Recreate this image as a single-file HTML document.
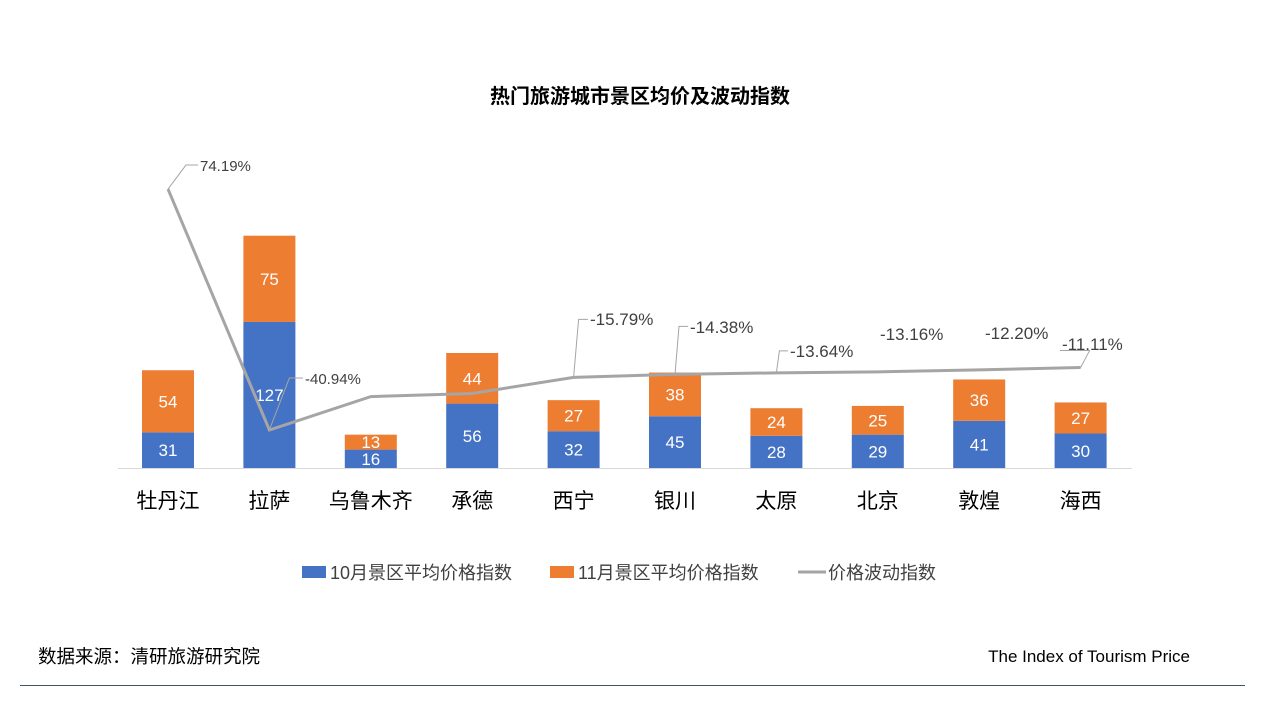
<!DOCTYPE html>
<html><head><meta charset="utf-8">
<style>
body{margin:0;width:1280px;height:720px;background:#fff;overflow:hidden;font-family:"Liberation Sans","Noto Sans CJK SC",sans-serif;}
</style></head>
<body>
<svg id="chart" width="1280" height="720" xmlns="http://www.w3.org/2000/svg" font-family="Liberation Sans, Noto Sans CJK SC, sans-serif">
<text x="640" y="103" text-anchor="middle" font-size="20" font-weight="bold" fill="#000">热门旅游城市景区均价及波动指数</text>
<line x1="118" y1="468.5" x2="1132" y2="468.5" stroke="#d9d9d9" stroke-width="1"/>
<g id="bars"></g>
<g id="line"></g>
<g font-size="18" fill="#404040">
<rect x="302" y="566" width="24" height="12" fill="#4472C4"/><text x="330" y="579">10月景区平均价格指数</text>
<rect x="550" y="566" width="24" height="12" fill="#ED7D31"/><text x="578" y="579">11月景区平均价格指数</text>
<line x1="798" y1="572" x2="826" y2="572" stroke="#A5A5A5" stroke-width="3"/><text x="828" y="579">价格波动指数</text>
</g>
<text x="38" y="663" font-size="18.5" fill="#000">数据来源：清研旅游研究院</text>
<text x="1190" y="662" text-anchor="end" font-size="17" fill="#000">The Index of Tourism Price</text>
<line x1="20" y1="685.5" x2="1245" y2="685.5" stroke="#44546A" stroke-width="1"/>
</svg>
<script>
const categories=["牡丹江","拉萨","乌鲁木齐","承德","西宁","银川","太原","北京","敦煌","海西"];
const oct=[31,127,16,56,32,45,28,29,41,30];
const nov=[54,75,13,44,27,38,24,25,36,27];
const change=[74.19,-40.94,-25.0,-23.5,-15.79,-14.38,-13.64,-13.16,-12.20,-11.11];
const changeLabels=["74.19%","-40.94%","","","-15.79%","-14.38%","-13.64%","-13.16%","-12.20%","-11.11%"];
const NS="http://www.w3.org/2000/svg";
const base=468, k=1.15, x0=168, step=101.4, bw=52;
const xp=i=>x0+i*step;
const yb=v=>base-v*k;
const yl=p=>344.3-p*2.093;
function mk(t,a,p){const e=document.createElementNS(NS,t);for(const n in a)e.setAttribute(n,a[n]);p.appendChild(e);return e;}
const bars=document.getElementById('bars'), line=document.getElementById('line');
categories.forEach((c,i)=>{
 const x=xp(i);
 const r1=mk('rect',{x:x-bw/2,y:yb(oct[i]),width:bw,height:oct[i]*k,fill:'#4472C4'},bars);
 
 
 const r2=mk('rect',{x:x-bw/2,y:yb(oct[i]+nov[i]),width:bw,height:nov[i]*k,fill:'#ED7D31'},bars);
 
 
 const t1=mk('text',{x:x,y:(yb(oct[i])+base)/2+6,'text-anchor':'middle','font-size':17,fill:'#fff'},bars);t1.textContent=oct[i];
 
 
 const t2=mk('text',{x:x,y:(yb(oct[i])+yb(oct[i]+nov[i]))/2+6,'text-anchor':'middle','font-size':17,fill:'#fff'},bars);t2.textContent=nov[i];
 
 
 const cl=mk('text',{x:x,y:508,'text-anchor':'middle','font-size':21,fill:'#000'},bars);cl.textContent=c;
 
 
});
const pts=change.map((p,i)=>xp(i)+','+yl(p)).join(' ');
const pl=mk('polyline',{points:pts,fill:'none',stroke:'#A5A5A5','stroke-width':3},line);


const off=[[18,-24,200,171],[20,-52,305,384],null,null,[5,-58,590,325],[4,-48,690,333],[3,-22,790,357],[0,0,880,340],[0,0,985,339],[9,-17,1062,350]];
change.forEach((p,i)=>{
 if(!changeLabels[i])return;
 const x=xp(i),y=yl(p),o=off[i];
 if(o[1]!==0){const ld=mk('polyline',{points:`${x},${y} ${x+o[0]},${y+o[1]} ${o[2]-2},${y+o[1]}`,fill:'none',stroke:'#A5A5A5','stroke-width':1},line);
 
 }
 const t=mk('text',{x:o[2],y:o[3],'font-size':i===0||i===1?15:17,fill:'#404040'},line);t.textContent=changeLabels[i];
 
 
});
</script>
</body></html>
